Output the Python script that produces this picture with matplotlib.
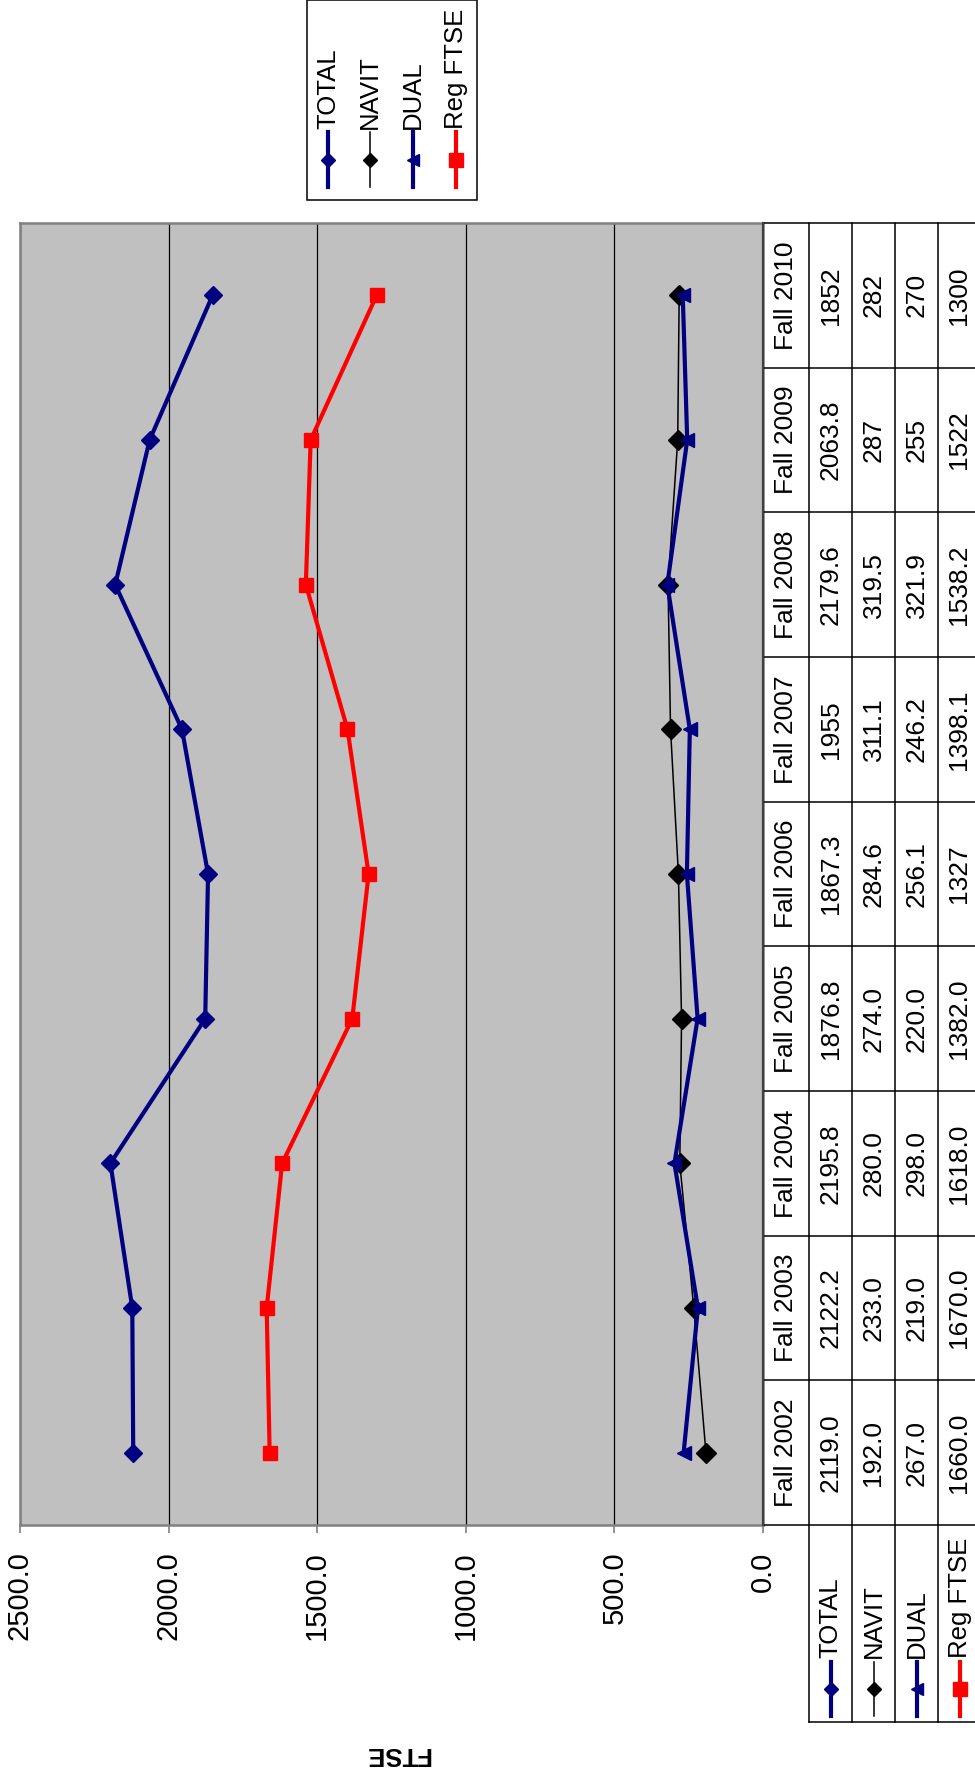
import numpy as np
import matplotlib
matplotlib.use("Agg")
import matplotlib.pyplot as plt

plt.rcParams["font.family"] = ["Liberation Sans", "DejaVu Sans"]

categories = ["Fall 2002", "Fall 2003", "Fall 2004", "Fall 2005", "Fall 2006",
              "Fall 2007", "Fall 2008", "Fall 2009", "Fall 2010"]
total = [2119.0, 2122.2, 2195.8, 1876.8, 1867.3, 1955.0, 2179.6, 2063.8, 1852.0]
navit = [192.0, 233.0, 280.0, 274.0, 284.6, 311.1, 319.5, 287.0, 282.0]
dual = [267.0, 219.0, 298.0, 220.0, 256.1, 246.2, 321.9, 255.0, 270.0]
reg_ftse = [1660.0, 1670.0, 1618.0, 1382.0, 1327.0, 1398.1, 1538.2, 1522.0, 1300.0]
total_txt = ["2119.0", "2122.2", "2195.8", "1876.8", "1867.3", "1955", "2179.6", "2063.8", "1852"]
navit_txt = ["192.0", "233.0", "280.0", "274.0", "284.6", "311.1", "319.5", "287", "282"]
dual_txt = ["267.0", "219.0", "298.0", "220.0", "256.1", "246.2", "321.9", "255", "270"]
reg_txt = ["1660.0", "1670.0", "1618.0", "1382.0", "1327", "1398.1", "1538.2", "1522", "1300"]
value_ticks = [0, 500, 1000, 1500, 2000, 2500]
value_labels = ["0.0", "500.0", "1000.0", "1500.0", "2000.0", "2500.0"]

NAVY = "#000080"
series = [
    # name, values, table text, colour, line width, marker, marker size, legend ms
    ("TOTAL", total, total_txt, NAVY, 3.0, "D", 9.5, 7.0),
    ("NAVIT", navit, navit_txt, "black", 1.1, "D", 10.0, 7.5),
    ("DUAL", dual, dual_txt, NAVY, 3.0, "<", 10.0, 8.5),
    ("Reg FTSE", reg_ftse, reg_txt, "red", 3.0, "s", 10.0, 10.0),
]

W, H = 975, 1776
fig = plt.figure(figsize=(W / 100, H / 100), dpi=100)

# plot area in pixels (chart is turned 90 deg counter-clockwise)
px_l, px_r, px_t, px_b = 20, 763, 223, 1525


def fx(p):
    return p / W


def fy(p):
    return 1 - p / H


ax = fig.add_axes([fx(px_l), fy(px_b), fx(px_r - px_l), (px_b - px_t) / H])
ax.set_facecolor("#C0C0C0")
pos = np.arange(len(categories))
for name, vals, _, col, lw, mk, ms, _ in series:
    ax.plot(vals, pos, color=col, lw=lw, marker=mk, ms=ms, mfc=col, mec=col,
            zorder=3, clip_on=False)
ax.set_xlim(2500, 0)
ax.set_ylim(-0.5, len(categories) - 0.5)
ax.set_xticks(value_ticks)
ax.set_xticklabels(value_labels, rotation=90, fontsize=21)
ax.tick_params(axis="x", direction="out", length=6, width=1.2, color="#808080", pad=13)
ax.set_yticks([])
ax.grid(axis="x", color="black", lw=0.9)
ax.set_axisbelow(True)
for s in ax.spines.values():
    s.set_color("#808080")
    s.set_linewidth(1.8)

# overlay in pixel units for the data table, legend and axis title
ov = fig.add_axes([0, 0, 1, 1], zorder=5)
ov.set_xlim(0, W)
ov.set_ylim(H, 0)
ov.axis("off")

band = (px_b - px_t) / len(categories)
col_edges = [763, 809, 852, 895, 938, 981]
row_bottom = 1722
lk = dict(color="black", lw=1.1, clip_on=False)

# horizontal grid of the table
for k in range(len(categories) + 1):
    y = px_b - k * band
    ov.plot([col_edges[0], col_edges[-1]], [y, y], **lk)
ov.plot([col_edges[1], col_edges[-1]], [row_bottom, row_bottom], **lk)
# vertical lines
ov.plot([col_edges[0], col_edges[0]], [px_t, px_b], color="#404040", lw=1.6)
for x in col_edges[1:-1]:
    ov.plot([x, x], [px_t, row_bottom], **lk)

# table cells
for i, cat in enumerate(categories):
    yc = px_b - (i + 0.5) * band
    ov.text((col_edges[0] + col_edges[1]) / 2, yc, cat, rotation=90,
            ha="center", va="center", fontsize=19)
    for j, (_, _, txt, *_rest) in enumerate(series):
        xc = (col_edges[j + 1] + col_edges[j + 2]) / 2
        ov.text(xc, yc, txt[i], rotation=90, ha="center", va="center", fontsize=19)

# row headers with legend keys
for j, (name, _, _, col, lw, mk, _, lms) in enumerate(series):
    xc = (col_edges[j + 1] + col_edges[j + 2]) / 2
    ov.plot([xc, xc], [1662, 1716], color=col, lw=lw, clip_on=False)
    ov.plot([xc], [1689], marker=mk, ms=lms, color=col, mec=col, clip_on=False)
    ov.text(xc, 1658, name, rotation=90, ha="center", va="bottom", fontsize=18.5)

# legend box
ov.add_patch(plt.Rectangle((307, 0), 170, 200, fill=False, ec="black", lw=1.1,
                           clip_on=False))
leg_x = [328, 370, 413, 456]
for x, (name, _, _, col, lw, mk, _, lms) in zip(leg_x, series):
    ov.plot([x, x], [132, 187], color=col, lw=lw, clip_on=False)
    ov.plot([x], [160], marker=mk, ms=lms, color=col, mec=col, clip_on=False)
    ov.text(x, 129, name, rotation=90, ha="center", va="bottom", fontsize=18.5)

# value axis title (upside down after the rotation)
ov.text(397, 1754, "FTSE", rotation=180, ha="center", va="center",
        fontsize=18.5, fontweight="bold")

fig.savefig("out.png", dpi=100)
